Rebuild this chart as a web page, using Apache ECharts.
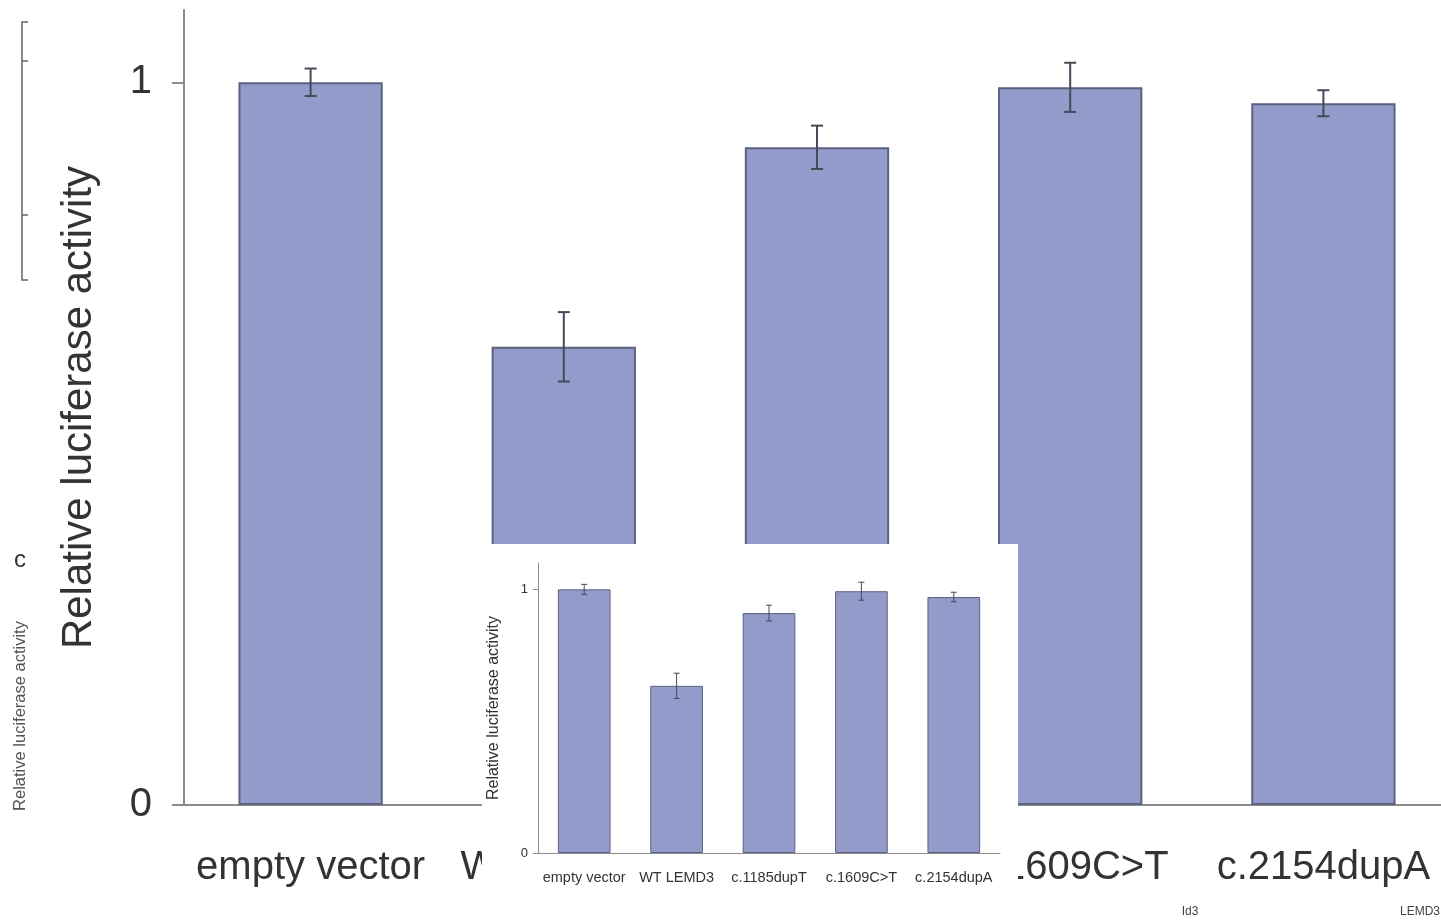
<!DOCTYPE html>
<html>
<head>
<meta charset="utf-8">
<title>Relative luciferase activity</title>
<script src="https://cdn.jsdelivr.net/npm/echarts@6/dist/echarts.min.js"></script>
<style>
  html, body { margin: 0; padding: 0; background: #fff; overflow: hidden; }
  /* 画布比窗口略宽，主图的x轴延伸到窗口外 */
  #chart { width: 1460px; height: 922px; }
</style>
</head>
<body>
<div id="chart"></div>
<script>
// 数据
var categories = ['empty vector', 'WT LEMD3', 'c.1185dupT', 'c.1609C>T', 'c.2154dupA'];
var activity = [1.0, 0.634, 0.910, 0.993, 0.971];
var errors = [0.019, 0.048, 0.030, 0.034, 0.018];
var yTicks = [0, 1];

var chart = echarts.init(document.getElementById('chart'));

var font = 'Liberation Sans, Arial, Helvetica, sans-serif';
var barFill = '#929bc9';
var barEdge = '#5d6280';
var axisGrey = '#8c8c8c';

// 误差线的数据
var errData = categories.map(function (c, i) {
    return [i, activity[i] - errors[i], activity[i] + errors[i]];
});

function errorBars(cap, width) {
    return function (params, api) {
        var x = api.value(0);
        var lo = api.coord([x, api.value(1)]);
        var hi = api.coord([x, api.value(2)]);
        var st = { stroke: '#444a5a', lineWidth: width };
        return {
            type: 'group',
            children: [
                { type: 'line', shape: { x1: lo[0], y1: lo[1], x2: hi[0], y2: hi[1] }, style: st },
                { type: 'line', shape: { x1: hi[0] - cap, y1: hi[1], x2: hi[0] + cap, y2: hi[1] }, style: st },
                { type: 'line', shape: { x1: lo[0] - cap, y1: lo[1], x2: lo[0] + cap, y2: lo[1] }, style: st }
            ]
        };
    };
}

var option = {
    backgroundColor: '#fff',
    animation: false,
    textStyle: { fontFamily: font },
    grid: [
        { left: 184, top: 10, width: 1266, height: 795 },
        { left: 538, top: 563, width: 462, height: 290, zlevel: 2 }
    ],
    xAxis: [
        {
            type: 'category', gridIndex: 0, data: categories,
            axisLine: { lineStyle: { color: axisGrey, width: 2 } },
            axisTick: { show: false },
            axisLabel: { color: '#333', fontSize: 40, margin: 43, interval: 0 }
        },
        {
            type: 'category', gridIndex: 1, data: categories, zlevel: 2,
            axisLine: { lineStyle: { color: axisGrey, width: 1 } },
            axisTick: { show: false },
            axisLabel: { color: '#333', fontSize: 14.5, margin: 17, interval: 0 }
        }
    ],
    yAxis: [
        {
            type: 'value', gridIndex: 0, min: 0, max: 1.1,
            name: 'Relative luciferase activity', nameLocation: 'middle', nameGap: 84,
            nameTextStyle: { color: '#333', fontSize: 42 },
            axisLine: { show: true, lineStyle: { color: axisGrey, width: 2 } },
            axisTick: { show: true, length: 12, customValues: yTicks, lineStyle: { color: axisGrey, width: 2 } },
            axisLabel: { color: '#333', fontSize: 40, margin: 32, customValues: yTicks },
            splitLine: { show: false }
        },
        {
            type: 'value', gridIndex: 1, min: 0, max: 1.1, zlevel: 2,
            name: 'Relative luciferase activity', nameLocation: 'middle', nameGap: 36,
            nameTextStyle: { color: '#333', fontSize: 16 },
            axisLine: { show: true, lineStyle: { color: axisGrey, width: 1 } },
            axisTick: { show: true, length: 5, customValues: yTicks, lineStyle: { color: axisGrey } },
            axisLabel: { color: '#333', fontSize: 13, margin: 10, customValues: yTicks },
            splitLine: { show: false }
        }
    ],
    graphic: {
        elements: [
            // 插图的白色底板
            { type: 'rect', zlevel: 1, shape: { x: 482, y: 544, width: 536, height: 346 }, style: { fill: '#fff' } },
            // 左侧残留的片段
            {
                type: 'polyline', zlevel: 1,
                shape: { points: [[28, 22], [22, 22], [22, 280], [28, 280]] },
                style: { stroke: '#666', lineWidth: 1.5, fill: null }
            },
            { type: 'line', zlevel: 1, shape: { x1: 22, y1: 61, x2: 28, y2: 61 }, style: { stroke: '#666', lineWidth: 1.5 } },
            { type: 'line', zlevel: 1, shape: { x1: 22, y1: 215, x2: 28, y2: 215 }, style: { stroke: '#666', lineWidth: 1.5 } },
            { type: 'text', zlevel: 1, x: 20, y: 560, style: { text: 'c', font: '24px ' + font, fill: '#333', align: 'center', verticalAlign: 'middle' } },
            {
                type: 'text', zlevel: 1, x: 20, y: 716, rotation: Math.PI / 2,
                style: { text: 'Relative luciferase activity', font: '16.5px ' + font, fill: '#555', align: 'center', verticalAlign: 'middle' }
            },
            { type: 'text', zlevel: 1, x: 1190, y: 912, style: { text: 'Id3', font: '12px ' + font, fill: '#444', align: 'center', verticalAlign: 'middle' } },
            { type: 'text', zlevel: 1, x: 1440, y: 912, style: { text: 'LEMD3', font: '12px ' + font, fill: '#444', align: 'right', verticalAlign: 'middle' } }
        ]
    },
    series: [
        {
            type: 'bar', xAxisIndex: 0, yAxisIndex: 0, data: activity, barWidth: '57%',
            itemStyle: { color: barFill, borderColor: barEdge, borderWidth: 2 }
        },
        {
            type: 'custom', xAxisIndex: 0, yAxisIndex: 0, data: errData, z: 5,
            renderItem: errorBars(6, 2)
        },
        {
            type: 'bar', xAxisIndex: 1, yAxisIndex: 1, data: activity, barWidth: '57%', zlevel: 2,
            itemStyle: { color: barFill, borderColor: barEdge, borderWidth: 1 }
        },
        {
            type: 'custom', xAxisIndex: 1, yAxisIndex: 1, data: errData, zlevel: 2, z: 5,
            renderItem: errorBars(3, 1)
        }
    ]
};

chart.setOption(option);
</script>
</body>
</html>
